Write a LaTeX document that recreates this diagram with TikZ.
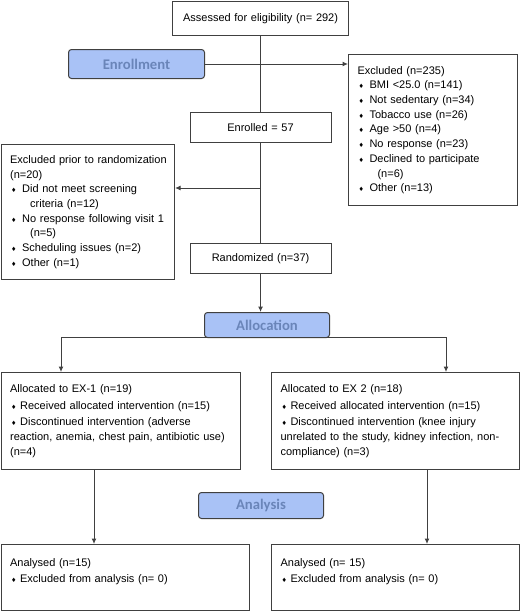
\documentclass[tikz,border=0pt]{standalone}
\usepackage{fontspec}
\setmainfont{Liberation Sans}
\newfontfamily\symfont{DejaVu Sans}
\newfontfamily\headfont{Carlito}
\usetikzlibrary{arrows.meta}
\definecolor{stagefill}{HTML}{A9C2F6}
\definecolor{stagetext}{HTML}{6A85B9}
\definecolor{edge}{HTML}{404040}
\newcommand{\bul}[1][12pt]{\makebox[#1][l]{\hspace{1pt}{\symfont\fontsize{6}{6}\selectfont ♦}}}
\begin{document}
\begin{tikzpicture}[x=1pt,y=-1pt,
    box/.style={draw=edge,line width=1.1pt,anchor=north west,align=left,inner xsep=9pt,inner ysep=0pt,
      font=\fontsize{11}{14.7}\selectfont},
    cbox/.style={box,align=center},
    stage/.style={draw=edge,line width=1pt,fill=stagefill,rounded corners=3pt,anchor=north west,
      inner sep=0pt,text=stagetext,font=\headfont\bfseries\fontsize{14.7}{15}\selectfont},
    ln/.style={draw=edge,line width=1pt},
    arr/.style={ln,-{Latex[length=5.5pt,width=5pt]}}]
  \useasboundingbox (0,0) rectangle (520,611);
  \node[cbox,text width=158pt,minimum width=176pt,minimum height=34.4pt] (assess) at (172,0.6) {Assessed for eligibility (n= 292)};
  \node[stage,minimum width=136pt,minimum height=29pt] (enroll) at (68,49) {Enrollment};
  \node[box,text width=151pt,minimum width=169pt,minimum height=151pt] (excl) at (348,54) {Excluded (n=235)\\
    \bul BMI <25.0 (n=141)\\
    \bul Not sedentary (n=34)\\
    \bul Tobacco use (n=26)\\
    \bul Age >50 (n=4)\\
    \bul No response (n=23)\\
    \bul Declined to participate\\
    \hspace*{20pt}(n=6)\\
    \bul Other (n=13)};
  \node[cbox,text width=123pt,minimum width=141pt,minimum height=30pt] (enrolled) at (189.5,112) {Enrolled = 57};
  \node[box,text width=155.4pt,minimum width=173.4pt,minimum height=135pt] (prior) at (0.6,144) {\mbox{Excluded prior to randomization}\\
    (n=20)\\
    \bul Did not meet screening\\
    \hspace*{20pt}criteria (n=12)\\
    \bul No response following visit 1\\
    \hspace*{20pt}(n=5)\\
    \bul Scheduling issues (n=2)\\
    \bul Other (n=1)};
  \node[cbox,text width=123pt,minimum width=141pt,minimum height=30pt] (rand) at (189.5,243) {Randomized (n=37)};
  \node[stage,minimum width=125pt,minimum height=25pt] (alloc) at (204,312) {Allocation};
  \node[box,text width=221.4pt,minimum width=239.4pt,minimum height=97pt] (armA) at (0.6,372) {Allocated to EX-1 (n=19)\\[2pt]
    \bul[10pt]Received allocated intervention (n=15)\\[2pt]
    \bul[10pt]Discontinued intervention (adverse\\
    reaction, anemia, chest pain, antibiotic use)\\
    (n=4)};
  \node[box,text width=230pt,minimum width=248pt,minimum height=97pt] (armB) at (271,372) {Allocated to EX 2 (n=18)\\[2pt]
    \bul[10pt]Received allocated intervention (n=15)\\[2pt]
    \bul[10pt]Discontinued intervention (knee injury\\
    unrelated to the study, kidney infection, non-\\
    compliance) (n=3)};
  \node[stage,minimum width=125pt,minimum height=26pt] (analysis) at (198,492) {Analysis};
  \node[box,text width=230.4pt,minimum width=248.4pt,minimum height=66pt] (anaA) at (0.6,544) {Analysed (n=15)\\[1pt]
    \bul[10pt]Excluded from analysis (n= 0)\\
    \mbox{}};
  \node[box,text width=230pt,minimum width=248pt,minimum height=66pt] (anaB) at (271,544) {Analysed (n= 15)\\[1pt]
    \bul[10pt]Excluded from analysis (n= 0)\\
    \mbox{}};
  \coordinate (split) at (260,188);
  \draw[ln] (assess) -- (enrolled);
  \draw[ln] (enrolled) -- (rand);
  \draw[arr] (enroll) -- (enroll -| excl.west);
  \draw[arr] (split) -- (split -| prior.east);
  \draw[arr] (rand.south) -- (rand.south |- alloc.north);
  \draw[arr] ([yshift=1pt]alloc.south) -| ([xshift=60.4pt]armA.north west);
  \draw[arr] ([yshift=1pt]alloc.south) -| ([xshift=175pt]armB.north west);
  \draw[arr] ([xshift=93.4pt]armA.south west) -- ([xshift=93.4pt]anaA.north west);
  \draw[arr] ([xshift=156pt]armB.south west) -- ([xshift=156pt]anaB.north west);
\end{tikzpicture}
\end{document}
